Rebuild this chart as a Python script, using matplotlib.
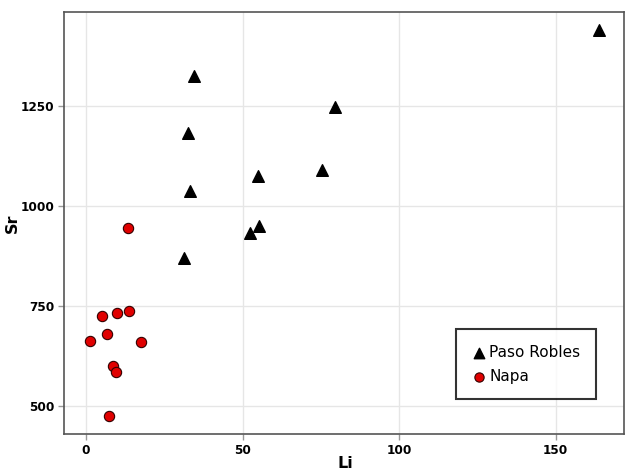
import numpy as np
import matplotlib.pyplot as plt

# Paso Robles
pr_li = [163.8, 34.5, 79.6, 32.6, 75.3, 54.8, 33.1, 55.2, 52.3, 31.4]
pr_sr = [1440, 1325, 1247, 1182, 1090, 1076, 1037, 950, 932, 869]

# Napa
napa_li = [13.3, 5.2, 9.8, 13.7, 6.6, 1.3, 17.7, 8.5, 9.7, 7.4]
napa_sr = [945, 726, 733, 737, 679, 663, 660, 601, 585, 475]

x_ticks = [0, 50, 100, 150]
y_ticks = [500, 750, 1000, 1250]

fig = plt.figure(figsize=(6.25, 4.74), dpi=100)
ax = fig.add_axes([0.1024, 0.0844, 0.8956, 0.8903])

ax.scatter(pr_li, pr_sr, marker="^", s=70, color="black", label="Paso Robles", zorder=3)
ax.scatter(napa_li, napa_sr, marker="o", s=55, facecolor="#e00000", edgecolor="#330000",
           linewidth=0.8, label="Napa", zorder=3)

ax.set_xlim(-7, 171.7)
ax.set_ylim(430, 1485)
ax.set_xticks(x_ticks)
ax.set_yticks(y_ticks)
ax.grid(True, color="#e6e6e6", linewidth=1)
ax.set_axisbelow(True)

for sp in ax.spines.values():
    sp.set_color("#555555")
    sp.set_linewidth(1.2)
ax.tick_params(colors="#999999", labelcolor="black", length=4, width=1, labelsize=8.7, pad=3)
for lab in ax.get_xticklabels() + ax.get_yticklabels():
    lab.set_fontweight("bold")

ax.set_xlabel("Li", fontsize=11.5, fontweight="bold", va="center")
ax.set_ylabel("Sr", fontsize=11.5, fontweight="bold", va="center")
ax.xaxis.set_label_coords(0.502, -0.071)
ax.yaxis.set_label_coords(-0.093, 0.5)

leg = ax.legend(loc="lower right", bbox_to_anchor=(0.95, 0.083), borderaxespad=0,
                fontsize=11, frameon=True, fancybox=False, edgecolor="black",
                handletextpad=0.2, borderpad=1.0, labelspacing=0.6, handlelength=1.0,
                markerscale=0.9)
leg.get_frame().set_linewidth(1.5)

plt.savefig("out.png", dpi=100)
